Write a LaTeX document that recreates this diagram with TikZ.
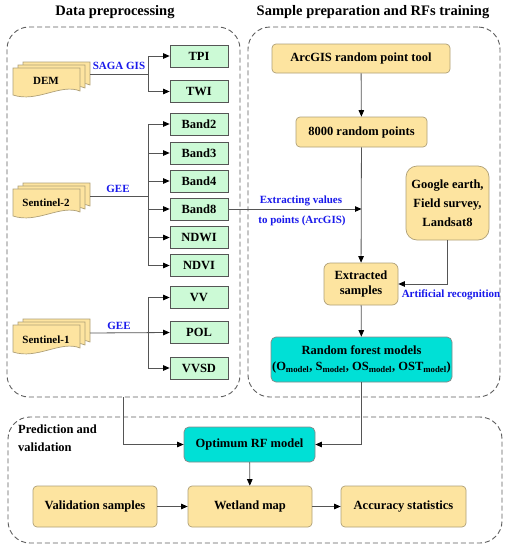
\documentclass[tikz,border=0pt]{standalone}
\usepackage{fontspec}
\setmainfont{Liberation Serif}
\usetikzlibrary{arrows.meta}
\definecolor{yel}{RGB}{253,228,160}
\definecolor{yelb}{RGB}{175,160,120}
\definecolor{grn}{RGB}{204,250,214}
\definecolor{cyn}{RGB}{0,224,214}
\definecolor{lbl}{RGB}{25,25,235}
\definecolor{ln}{RGB}{85,85,85}
\definecolor{dsh}{RGB}{95,95,95}
\newcommand\onepage{\filldraw[draw=yelb,fill=yel,line width=0.7pt] (0,0) -- (67,0) -- (67,23) .. controls (48,15) and (24,35) .. (0,27) -- cycle;}
\newcommand\docstack[1]{%
 \begin{scope}[shift={(#1)}]
 \begin{scope}[shift={(10,-6)}]\onepage\end{scope}
 \begin{scope}[shift={(5,-3)}]\onepage\end{scope}
 \onepage
 \end{scope}}
\begin{document}
\begin{tikzpicture}[x=1pt,y=-1pt,
 bx/.style={font=\fontsize{12.5}{15}\bfseries\selectfont, align=center, inner sep=0pt, line width=0.7pt},
 ybox/.style={bx, draw=yelb, fill=yel, rounded corners=4pt},
 gbox/.style={bx, draw=ln, fill=grn, minimum width=58pt, minimum height=22pt},
 cbox/.style={bx, draw=ln!70, fill=cyn, rounded corners=5pt},
 lab/.style={text=lbl, font=\fontsize{11}{13}\bfseries\selectfont, inner sep=0pt},
 doclab/.style={font=\fontsize{11}{13}\bfseries\selectfont, inner sep=0pt},
 title/.style={font=\fontsize{14.5}{17}\bfseries\selectfont, inner sep=0pt},
 region/.style={draw=dsh, line width=0.9pt, dash pattern=on 5pt off 3pt, rounded corners=22pt, inner sep=0pt},
 arr/.style={draw=ln, line width=0.8pt, -{Triangle[length=6.5pt,width=5.5pt,fill=black,color=black]}},
 ln/.style={draw=ln, line width=0.8pt}]
\useasboundingbox (0,0) rectangle (508,550);
\fill[white] (0,0) rectangle (508,550);
% regions
\node[region, minimum width=233pt, minimum height=370pt] (lbox) at (123.5,212) {};
\node[region, minimum width=252pt, minimum height=370pt] (rbox) at (374,212) {};
\node[region, minimum width=494pt, minimum height=126pt] (bbox) at (255,480) {};
\node[title] (t1) at (115,12) {Data preprocessing};
\node[title] (t2) at (373,12) {Sample preparation and RFs training};
\node[anchor=north west, align=left, font=\fontsize{12.5}{18}\bfseries\selectfont, inner sep=0pt] (pv) at (18,425) {Prediction and\\validation};
% documents
\docstack{13,68}
\docstack{13,189}
\docstack{13,325}
\node[doclab] (dem) at (46,81) {DEM};
\node[doclab] (s2) at (46,203) {Sentinel-2};
\node[doclab] (s1) at (46,340) {Sentinel-1};
\coordinate (demR) at (90,74);
\coordinate (s2R) at (90,196);
\coordinate (s1R) at (90,333);
\coordinate (demB) at (148,74);
\coordinate (s2B) at (148,196);
\coordinate (s1B) at (148,333);
% green boxes
\node[gbox] (tpi) at (199,56) {TPI};
\node[gbox] (twi) at (199,91.5) {TWI};
\node[gbox] (b2) at (199,124) {Band2};
\node[gbox] (b3) at (199,153) {Band3};
\node[gbox] (b4) at (199,181) {Band4};
\node[gbox] (b8) at (199,209) {Band8};
\node[gbox] (ndwi) at (199,237.5) {NDWI};
\node[gbox] (ndvi) at (199,265.5) {NDVI};
\node[gbox] (vv) at (199,297.5) {VV};
\node[gbox] (pol) at (199,332.5) {POL};
\node[gbox] (vvsd) at (199,368) {VVSD};
% left connectors
\draw[ln] (demR) -- (demB);
\draw[arr] (demB) |- (tpi.west);
\draw[arr] (demB) |- (twi.west);
\draw[ln] (s2R) -- (s2B);
\foreach \n in {b2,b3,b4,b8,ndwi,ndvi} \draw[arr] (s2B) |- (\n.west);
\draw[arr] (s1R) -- (pol.west);
\draw[arr] (s1B) |- (vv.west);
\draw[arr] (s1B) |- (vvsd.west);
\node[lab] (saga) at (119,66) {SAGA GIS};
\node[lab] (gee2) at (118,189) {GEE};
\node[lab] (gee1) at (119,326) {GEE};
% right panel
\node[ybox, minimum width=178pt, minimum height=29pt] (arc) at (361,58.5) {ArcGIS random point tool};
\node[ybox, minimum width=131pt, minimum height=30pt] (rp) at (361.5,132) {8000 random points};
\node[ybox, minimum width=83pt, minimum height=74pt, rounded corners=11pt, font=\fontsize{12.5}{19}\bfseries\selectfont] (ge) at (447.5,203) {Google earth,\\Field survey,\\Landsat8};
\node[ybox, minimum width=74pt, minimum height=42pt, rounded corners=6pt, font=\fontsize{12.5}{15.5}\bfseries\selectfont] (ext) at (361,284) {Extracted\\samples};
\node[cbox, minimum width=181pt, minimum height=45pt, font=\fontsize{12.5}{16}\bfseries\selectfont] (rf) at (361.5,359.5) {Random forest models\\(O\textsubscript{model}, S\textsubscript{model}, OS\textsubscript{model}, OST\textsubscript{model})};
\draw[arr] (arc) -- (rp);
\draw[arr] (rp) -- (ext);
\coordinate (evend) at (rp.south |- b8.east);
\draw[arr] (b8.east) -- (evend);
\node[lab] (ev1) at (301,201) {Extracting values};
\node[lab] (ev2) at (302,221) {to points (ArcGIS)};
\draw[arr] (ge.south) |- (ext.east);
\node[lab] (ar) at (451,295) {Artificial recognition};
\draw[arr] (ext) -- (rf);
% bottom
\node[cbox, minimum width=131pt, minimum height=35pt] (opt) at (249.5,444.5) {Optimum RF model};
\node[ybox, minimum width=124pt, minimum height=41pt] (val) at (95,506.5) {Validation samples};
\node[ybox, minimum width=124pt, minimum height=41pt] (wet) at (250,506.5) {Wetland map};
\node[ybox, minimum width=125pt, minimum height=41pt] (acc) at (403.5,506.5) {Accuracy statistics};
\draw[arr] (lbox.south) |- (opt.west);
\draw[arr] (rf.south) |- (opt.east);
\draw[arr] (opt) -- (wet);
\draw[arr] (val) -- (wet);
\draw[arr] (wet) -- (acc);
\end{tikzpicture}
\end{document}
